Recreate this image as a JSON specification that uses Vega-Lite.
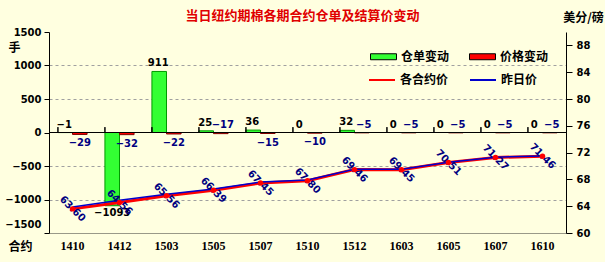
{
  "$schema": "https://vega.github.io/schema/vega-lite/v6.json",
  "width": 517,
  "height": 201,
  "autosize": "none",
  "padding": {"left": 49, "top": 32, "right": 39, "bottom": 29},
  "background": "#FFFFE0",
  "title": {"text": "当日纽约期棉各期合约仓单及结算价变动", "font": "Noto Sans CJK SC", "fontSize": 13, "fontWeight": "bold", "color": "#E00000", "anchor": "middle", "dx": -5, "offset": -22, "baseline": "alphabetic"},
  "config": {
    "view": {"stroke": null},
    "axis": {"labelFont": "DejaVu Sans", "labelFontWeight": "bold", "labelFontSize": 10, "labelColor": "#000000", "domainColor": "#000000", "tickColor": "#000000", "titleFont": "Noto Sans CJK SC", "titleFontWeight": "bold", "titleFontSize": 12, "titleColor": "#000000", "labelOverlap": false},
    "legend": {"labelFont": "Noto Sans CJK SC", "labelFontWeight": "bold", "labelFontSize": 12, "labelColor": "#000000", "padding": 0}
  },
  "data": {"values": [
    {"c": "1410", "仓单变动": -1, "价格变动": -29, "各合约价": 63.60, "昨日价": 63.89},
    {"c": "1412", "仓单变动": -1093, "价格变动": -32, "各合约价": 64.56, "昨日价": 64.88},
    {"c": "1503", "仓单变动": 911, "价格变动": -22, "各合约价": 65.56, "昨日价": 65.78},
    {"c": "1505", "仓单变动": 25, "价格变动": -17, "各合约价": 66.39, "昨日价": 66.56},
    {"c": "1507", "仓单变动": 36, "价格变动": -15, "各合约价": 67.45, "昨日价": 67.60},
    {"c": "1510", "仓单变动": 0, "价格变动": -10, "各合约价": 67.80, "昨日价": 67.90},
    {"c": "1512", "仓单变动": 32, "价格变动": -5, "各合约价": 69.46, "昨日价": 69.51},
    {"c": "1603", "仓单变动": 0, "价格变动": -5, "各合约价": 69.45, "昨日价": 69.50},
    {"c": "1605", "仓单变动": 0, "价格变动": -5, "各合约价": 70.51, "昨日价": 70.56},
    {"c": "1607", "仓单变动": 0, "价格变动": -5, "各合约价": 71.27, "昨日价": 71.32},
    {"c": "1610", "仓单变动": 0, "价格变动": -5, "各合约价": 71.46, "昨日价": 71.51}
  ]},
  "layer": [
    {
      "transform": [{"fold": ["仓单变动", "价格变动"], "as": ["s", "v"]}],
      "layer": [
        {
          "mark": {"type": "bar", "strokeWidth": 1},
          "encoding": {
            "x": {"field": "c", "type": "nominal", "sort": null,
              "scale": {"paddingInner": 0.38, "paddingOuter": 0.19},
              "axis": {"title": "合约", "titleAngle": 0, "titleX": -29, "titleY": 13, "titleAlign": "center", "titleBaseline": "middle", "labelAngle": 0, "ticks": false, "labelPadding": 7, "domainColor": "#999988", "labelFont": "Liberation Serif", "labelFontSize": 12}},
            "xOffset": {"field": "s", "type": "nominal", "sort": ["仓单变动", "价格变动"], "scale": {"domain": ["仓单变动", "价格变动"], "paddingInner": 0}},
            "y": {"field": "v", "type": "quantitative", "title": "手",
              "scale": {"domain": [-1500, 1500], "nice": false},
              "axis": {"values": [-1500, -1000, -500, 0, 500, 1000, 1500], "tickCount": 20, "format": "d", "titleAngle": 0, "titleX": -35, "titleY": 15, "titleAlign": "center", "titleBaseline": "middle", "tickSize": 5, "labelPadding": 3,
                "labelBaseline": {"condition": {"test": "datum.value == -1500", "value": "bottom"}, "value": "middle"},
                "labelOffset": {"condition": {"test": "datum.value == -1500", "value": -4}, "value": 0},
                "grid": true, "gridDash": [3, 3], "gridColor": {"condition": {"test": "datum.value == 0 || abs(datum.value) == 1500", "value": "transparent"}, "value": "#A0A0A0"}}},
            "fill": {"field": "s", "type": "nominal", "title": null,
              "scale": {"domain": ["仓单变动", "价格变动"], "range": ["#33FF33", "#FF0000"]},
              "legend": {"orient": "none", "legendX": 321, "legendY": 11, "direction": "horizontal", "columnPadding": 17, "symbolType": "M-1,-0.23H1V0.23H-1Z", "symbolSize": 676, "symbolStrokeColor": "#000000", "symbolStrokeWidth": 1, "labelOffset": 4}},
            "stroke": {"condition": {"test": "datum.s == '仓单变动'", "value": "#009900"}, "value": "#800000"}
          }
        },
        {
          "mark": {"type": "rule", "color": "#000000", "strokeWidth": 1},
          "encoding": {"y": {"datum": 0, "type": "quantitative"}}
        },
        {
          "mark": {"type": "rule", "color": "#000000", "strokeWidth": 1},
          "encoding": {
            "x": {"field": "c", "type": "nominal", "sort": null, "bandPosition": 0},
            "y": {"datum": 0, "type": "quantitative"},
            "y2": {"datum": 80}
          }
        },
        {
          "transform": [{"filter": "datum.s == '仓单变动' && datum.v >= -1"}],
          "mark": {"type": "text", "font": "DejaVu Sans", "fontWeight": "bold", "fontSize": 10, "color": "#000000", "baseline": "bottom", "dy": -3, "dx": -1},
          "encoding": {
            "x": {"field": "c", "type": "nominal", "sort": null},
            "xOffset": {"field": "s", "type": "nominal"},
            "y": {"field": "v", "type": "quantitative"},
            "text": {"field": "v", "type": "quantitative"}
          }
        },
        {
          "transform": [{"filter": "datum.s == '仓单变动' && datum.v < -1"}],
          "mark": {"type": "text", "font": "DejaVu Sans", "fontWeight": "bold", "fontSize": 10, "color": "#000000", "baseline": "top", "dy": 2},
          "encoding": {
            "x": {"field": "c", "type": "nominal", "sort": null},
            "xOffset": {"field": "s", "type": "nominal"},
            "y": {"field": "v", "type": "quantitative"},
            "text": {"field": "v", "type": "quantitative"}
          }
        },
        {
          "transform": [{"filter": "datum.s == '价格变动' && (datum.v == -5 || datum.c == '1505')"}],
          "mark": {"type": "text", "font": "DejaVu Sans", "fontWeight": "bold", "fontSize": 10, "color": "#000080", "baseline": "bottom", "dy": -3, "dx": 2},
          "encoding": {
            "x": {"field": "c", "type": "nominal", "sort": null},
            "xOffset": {"field": "s", "type": "nominal"},
            "y": {"datum": 0, "type": "quantitative"},
            "text": {"field": "v", "type": "quantitative"}
          }
        },
        {
          "transform": [{"filter": "datum.s == '价格变动' && datum.v != -5 && datum.c != '1505'"}],
          "mark": {"type": "text", "font": "DejaVu Sans", "fontWeight": "bold", "fontSize": 10, "color": "#000080", "baseline": "top", "dy": 4},
          "encoding": {
            "x": {"field": "c", "type": "nominal", "sort": null},
            "xOffset": {"field": "s", "type": "nominal"},
            "y": {"field": "v", "type": "quantitative"},
            "text": {"field": "v", "type": "quantitative"}
          }
        }
      ]
    },
    {
      "transform": [{"fold": ["各合约价", "昨日价"], "as": ["s2", "p"]}],
      "layer": [
        {
          "transform": [{"filter": "datum.s2 == '各合约价'"}],
          "mark": {"type": "line", "strokeWidth": 3},
          "encoding": {
            "x": {"field": "c", "type": "nominal", "sort": null},
            "y": {"field": "p", "type": "quantitative", "title": "美分/磅",
              "scale": {"domain": [60, 90], "nice": false, "zero": false},
              "axis": {"orient": "right", "values": [60, 64, 68, 72, 76, 80, 84, 88], "tickCount": 20, "titleAngle": 0, "titleX": 17, "titleY": -15, "titleAlign": "center", "titleBaseline": "middle", "tickSize": 6, "labelPadding": 4, "grid": false}},
            "stroke": {"field": "s2", "type": "nominal", "title": null,
              "scale": {"domain": ["各合约价", "昨日价"], "range": ["#FF0000", "#0000CC"]},
              "legend": {"orient": "none", "legendX": 319, "legendY": 34, "direction": "horizontal", "columnPadding": 17, "symbolType": "stroke", "symbolSize": 676, "symbolStrokeWidth": 2, "labelOffset": 4}}
          }
        },
        {
          "transform": [{"filter": "datum.s2 == '昨日价'"}],
          "mark": {"type": "line", "strokeWidth": 1.5},
          "encoding": {
            "x": {"field": "c", "type": "nominal", "sort": null},
            "y": {"field": "p", "type": "quantitative", "title": "美分/磅"},
            "stroke": {"field": "s2", "type": "nominal", "title": null}
          }
        },
        {
          "transform": [{"filter": "datum.s2 == '各合约价'"}],
          "mark": {"type": "text", "font": "DejaVu Sans", "fontWeight": "bold", "fontSize": 10, "color": "#000080", "angle": 45, "align": "center", "baseline": "middle"},
          "encoding": {
            "x": {"field": "c", "type": "nominal", "sort": null},
            "y": {"field": "p", "type": "quantitative", "title": "美分/磅"},
            "text": {"field": "p", "type": "quantitative", "format": ".2f"}
          }
        },
        {
          "transform": [{"filter": "datum.s2 == '各合约价'"}],
          "mark": {"type": "point", "shape": "circle", "filled": true, "color": "#FF0000", "size": 30, "opacity": 1},
          "encoding": {
            "x": {"field": "c", "type": "nominal", "sort": null},
            "y": {"field": "p", "type": "quantitative", "title": "美分/磅"}
          }
        }
      ]
    }
  ],
  "resolve": {"scale": {"y": "independent"}}
}
